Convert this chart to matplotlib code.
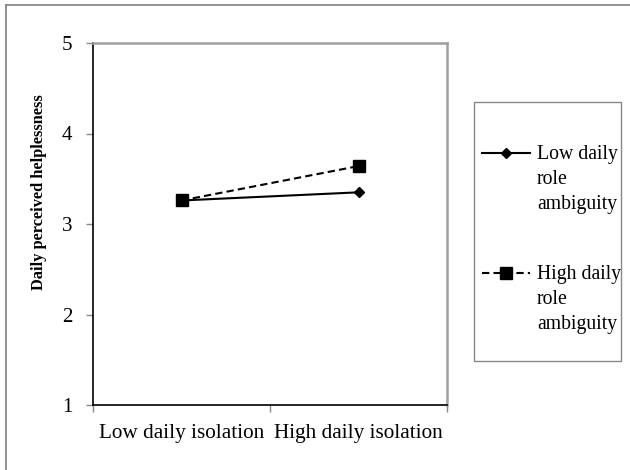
import matplotlib
matplotlib.use("Agg")
import matplotlib.pyplot as plt
from matplotlib.lines import Line2D
from matplotlib.patches import Rectangle

categories = ["Low daily isolation", "High daily isolation"]
series_names = ["Low daily\nrole\nambiguity", "High daily\nrole\nambiguity"]
low_ambiguity = [3.26, 3.35]
high_ambiguity = [3.26, 3.64]
y_ticks = [1, 2, 3, 4, 5]
y_label = "Daily perceived helplessness"

plt.rcParams["font.family"] = ["Liberation Serif", "DejaVu Serif"]

W, H = 630, 470
fig = plt.figure(figsize=(6.3, 4.7), dpi=100)
ax = fig.add_axes([93 / W, 1 - 405 / H, (447 - 93) / W, (405 - 43) / H])

xpos = [i + 0.5 for i in range(len(categories))]
styles = [
    dict(color="black", lw=1.5, ls="-", marker="D", ms=5.5),
    dict(color="black", lw=1.5, ls=(0, (3.5, 2)), marker="s", ms=8.5),
]
for vals, st in zip([low_ambiguity, high_ambiguity], styles):
    ax.plot(xpos, vals, **st, zorder=3)

ax.set_xlim(0, len(categories))
ax.set_ylim(1, 5)
ax.set_yticks(y_ticks)
ax.set_yticklabels([str(v) for v in y_ticks], fontsize=15)
ax.set_xticks(range(len(categories) + 1))
ax.set_xticklabels([])
ax.set_xticks(xpos, minor=True)
ax.set_xticklabels(categories, minor=True, fontsize=15.3)
ax.tick_params(axis="x", which="minor", length=0, pad=14)
ax.tick_params(axis="x", which="major", length=5, width=1, color="#888888", direction="out")
ax.tick_params(axis="y", length=5, width=1, color="#888888", direction="out", pad=10)
ax.set_ylabel(y_label, fontsize=11.8, fontweight="bold")
ax.yaxis.set_label_coords((47 - 93) / (447 - 93), (405 - 192) / (405 - 43))

ax.spines["left"].set_color("black")
ax.spines["bottom"].set_color("black")
ax.spines["left"].set_linewidth(1.2)
ax.spines["bottom"].set_linewidth(1.2)
for s in ["top", "right"]:
    ax.spines[s].set_color("#a0a0a0")
    ax.spines[s].set_linewidth(1.8)

# figure border (top & left visible)
fig.add_artist(Line2D([5.5 / W, 5.5 / W], [0, 1 - 5 / H], color="#888888", lw=1.3,
                      transform=fig.transFigure))
fig.add_artist(Line2D([5.5 / W, 1], [1 - 5 / H, 1 - 5 / H], color="#888888", lw=1.3,
                      transform=fig.transFigure))

# legend box
fig.add_artist(Rectangle((474 / W, 1 - 361 / H), (621 - 474) / W, (361 - 102) / H,
                         transform=fig.transFigure, fill=False, edgecolor="#888888", lw=1.0))
handle_y = [153, 273]
for name, st, hy in zip(series_names, styles, handle_y):
    yy = 1 - hy / H
    fig.add_artist(Line2D([482 / W, 530 / W], [yy, yy], transform=fig.transFigure,
                          color=st["color"], lw=st["lw"], ls=st["ls"]))
    fig.add_artist(Line2D([506 / W], [yy], transform=fig.transFigure, color=st["color"],
                          marker=st["marker"], ms=st["ms"], ls="none"))
    fig.text(537 / W, yy + 8 / H, name, fontsize=14.2, va="top", ha="left", linespacing=1.42)

fig.savefig("out.png", dpi=100)
